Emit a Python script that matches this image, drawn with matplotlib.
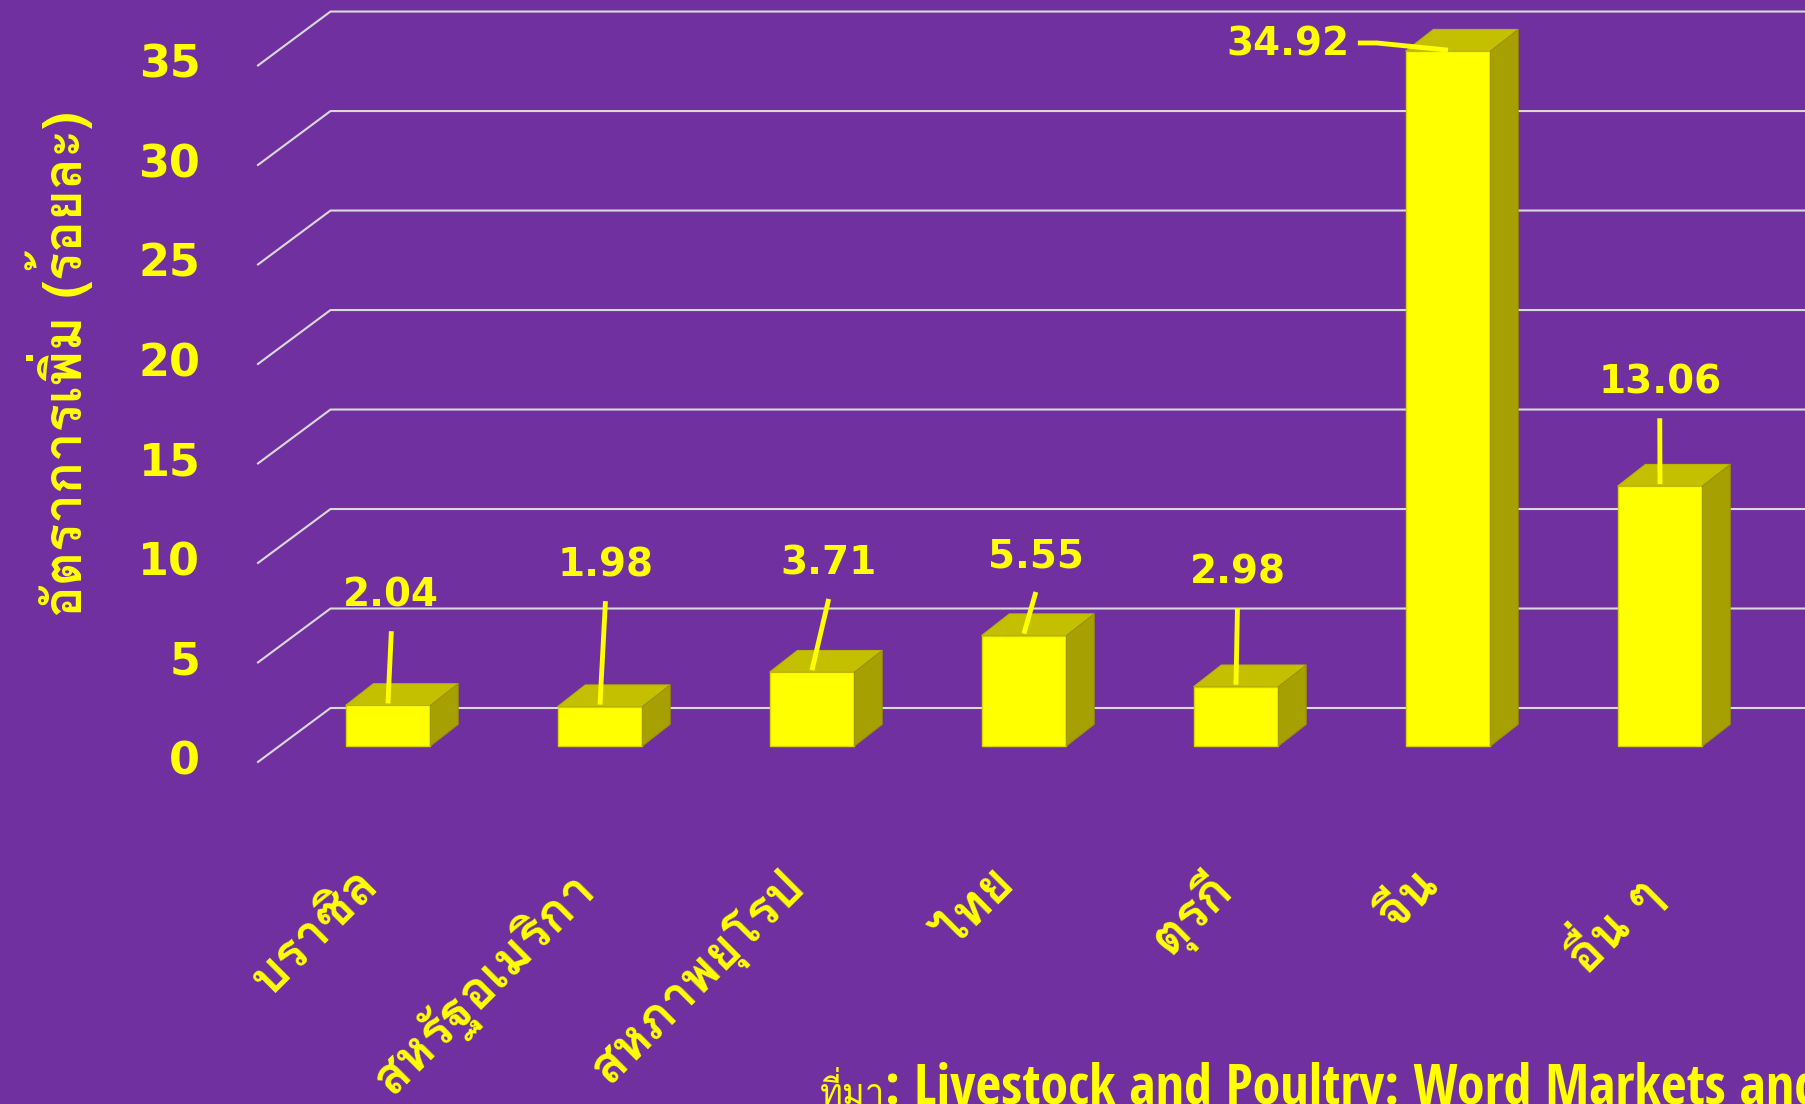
import matplotlib
matplotlib.use('Agg')
import matplotlib.pyplot as plt
from matplotlib.patches import Polygon

categories = ['บราซิล', 'สหรัฐอเมริกา', 'สหภาพยุโรป', 'ไทย', 'ตุรกี', 'จีน', 'อื่น ๆ']
values = [2.04, 1.98, 3.71, 5.55, 2.98, 34.92, 13.06]
yticks = [0, 5, 10, 15, 20, 25, 30, 35]
ylabel = 'อัตราการเพิ่ม (ร้อยละ)'
source_th = 'ที่มา'
source_en = ': Livestock and Poultry: Word Markets and Trade'

# label offsets (category units, value units) relative to bar top
label_off = [(0.016, 5.53), (0.026, 7.10), (0.079, 5.48), (0.056, 3.99),
             (0.007, 5.75), (-0.465, 0.31), (-0.001, 5.21)]

BG = '#7030A0'
YEL = '#FFFF00'
TOP = '#C4C000'
SIDE = '#A6A000'
GRID = '#D9D9D9'
THAI = ['Loma', 'DejaVu Sans']

bar_w = 0.40
dep_x, dep_y = 0.131, 1.09      # bar depth
wall_x, wall_y = 0.229, 1.91    # back wall offset
fl_x, fl_y = -0.113, -0.80      # floor front edge offset

fig = plt.figure(figsize=(18.05, 11.04), dpi=100, facecolor=BG)
ax = fig.add_axes([0, 0, 1, 1])
ax.set_facecolor(BG)
ax.set_xlim(-1.830, 6.684)
ax.set_ylim(-17.99, 37.49)
ax.axis('off')

xmax = 6.684
for v in yticks:
    ax.plot([-0.5 + fl_x, -0.5 + wall_x, xmax], [v + fl_y, v + wall_y, v + wall_y],
            color=GRID, lw=1.5, zorder=1)
    ax.text(-0.885, v + fl_y, str(v), ha='right', va='center', color=YEL,
            fontsize=32, fontweight='bold', family='DejaVu Sans')

for i, v in enumerate(values):
    x0, x1 = i - bar_w / 2, i + bar_w / 2
    ax.bar(i, v, width=bar_w, color=YEL, edgecolor='#D8D800', lw=1, zorder=3)
    ax.add_patch(Polygon([(x0, v), (x1, v), (x1 + dep_x, v + dep_y), (x0 + dep_x, v + dep_y)],
                         closed=True, fc=TOP, ec='#B8B400', lw=0.8, zorder=3))
    ax.add_patch(Polygon([(x1, 0), (x1, v), (x1 + dep_x, v + dep_y), (x1 + dep_x, dep_y)],
                         closed=True, fc=SIDE, ec='#9A9600', lw=0.8, zorder=3))
    dx, dy = label_off[i]
    lx, ly = i + dx, v + dy
    if dx < -0.2:
        ax.text(lx, ly, f'{v:.2f}', ha='right', va='center', color=YEL,
                fontsize=28, fontweight='bold', family='DejaVu Sans', zorder=5)
        ax.plot([lx + 0.04, lx + 0.13, i], [ly + 0.1, ly + 0.1, v + 0.05],
                color=YEL, lw=3.5, zorder=4, solid_capstyle='butt')
    else:
        ax.text(lx, ly, f'{v:.2f}', ha='center', va='center', color=YEL,
                fontsize=28, fontweight='bold', family='DejaVu Sans', zorder=5)
        ax.plot([lx, i], [ly - 1.8, v + 0.1], color=YEL, lw=3.5, zorder=4,
                solid_capstyle='butt')
    ax.text(i - 0.154, -5.75, categories[i], rotation=45, rotation_mode='anchor',
            ha='right', va='top', color=YEL, fontsize=37, fontweight='bold',
            family=THAI)

ax.text(-1.55, 19.2, ylabel, rotation=90, ha='center', va='center', color=YEL,
        fontsize=38, fontweight='bold', family=THAI)

t = ax.text(2.038, -18.0, source_th, ha='left', va='baseline', color=YEL,
            fontsize=25, family=THAI)
fig.canvas.draw()
bb = t.get_window_extent()
xe = ax.transData.inverted().transform((bb.x1, bb.y0))[0]
ax.text(xe, -18.0, source_en, ha='left', va='baseline', color=YEL,
        fontsize=40.5, fontweight='bold', fontstretch='condensed',
        family=['Open Sans Condensed', 'Liberation Sans Narrow', 'Open Sans'])

fig.savefig('out.png', dpi=100, facecolor=BG)
